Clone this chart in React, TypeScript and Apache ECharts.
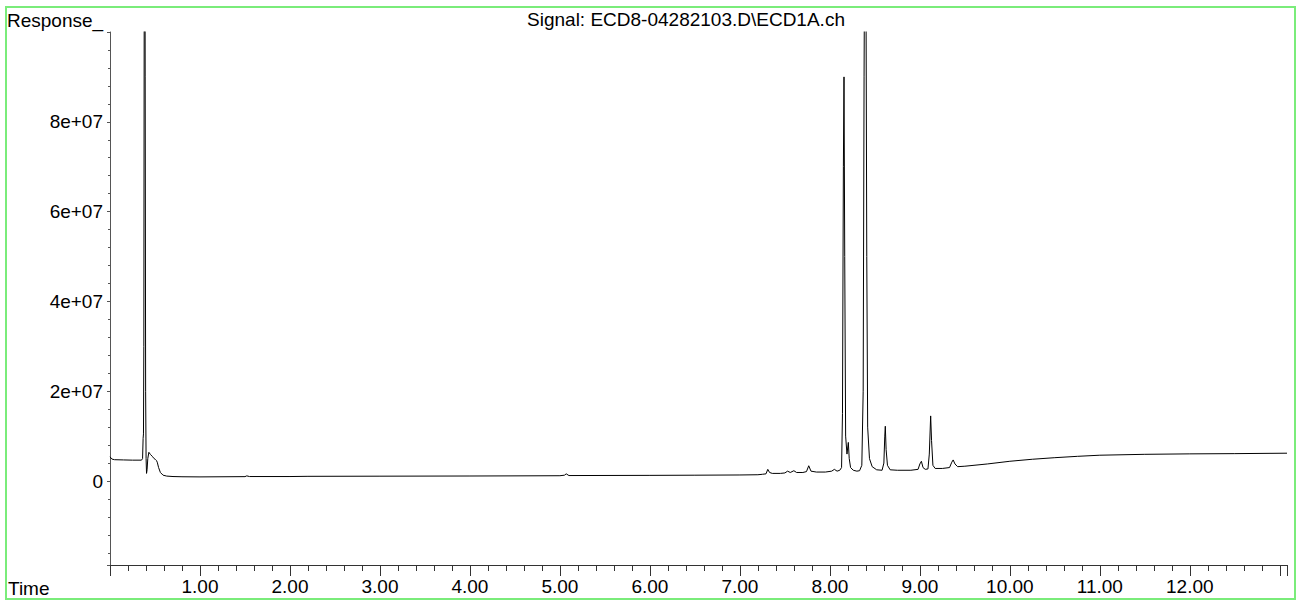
import React, { useEffect, useRef } from "react";
import * as echarts from "echarts";

// ---- Data (retention time in minutes, detector response) ----
const solventTimes = [0.0, 0.02, 0.05, 0.15, 0.25, 0.35, 0.362, 0.368, 0.372, 0.376, 0.381, 0.386, 0.391, 0.396, 0.401, 0.406, 0.412, 0.42, 0.432, 0.45, 0.47, 0.49, 0.505, 0.515, 0.525, 0.54, 0.56, 0.59, 0.63, 0.7, 0.8];
const solventResp = [5.4e6, 4.9e6, 4.75e6, 4.7e6, 4.65e6, 4.65e6, 5.0e6, 9.5e6, 1.05e7, 3.0e7, 1.2e8, 1.6e8, 9.0e7, 2.0e7, 5.0e6, 1.7e6, 2.5e6, 5.0e6, 6.4e6, 5.9e6, 5.5e6, 5.0e6, 4.8e6, 4.6e6, 4.2e6, 3.0e6, 1.9e6, 1.3e6, 1.1e6, 1.0e6, 0.95e6];

const baselineTimes = [1.0, 1.5, 1.52, 1.55, 2.0, 2.2, 3.0, 4.0, 5.0, 5.05, 5.07, 5.1, 6.0, 6.5, 7.0, 7.2];
const baselineResp = [0.92e6, 0.98e6, 1.15e6, 1.0e6, 1.0e6, 1.05e6, 1.08e6, 1.12e6, 1.18e6, 1.3e6, 1.6e6, 1.22e6, 1.26e6, 1.3e6, 1.35e6, 1.4e6];

const minorPeakTimes = [7.25, 7.29, 7.31, 7.33, 7.36, 7.45, 7.5, 7.53, 7.56, 7.6, 7.63, 7.7, 7.74, 7.765, 7.79, 7.85, 7.95, 8.02, 8.05, 8.08, 8.11];
const minorPeakResp = [1.5e6, 1.6e6, 2.6e6, 1.9e6, 1.7e6, 1.7e6, 1.8e6, 2.2e6, 1.9e6, 2.3e6, 1.9e6, 1.9e6, 2.1e6, 3.4e6, 2.2e6, 2.0e6, 2.0e6, 2.2e6, 2.6e6, 2.2e6, 2.4e6];

const mainPeakTimes = [8.13, 8.14, 8.15, 8.157, 8.165, 8.175, 8.19, 8.205, 8.215, 8.23, 8.26, 8.3, 8.33, 8.355, 8.37, 8.38, 8.39, 8.4, 8.41, 8.42, 8.44, 8.47, 8.52, 8.58, 8.6, 8.61, 8.616, 8.625, 8.64, 8.67, 8.75, 8.9, 8.98, 9.0, 9.017, 9.035, 9.06, 9.09, 9.105, 9.12, 9.13, 9.145, 9.17, 9.25, 9.33, 9.355, 9.37, 9.39, 9.42];
const mainPeakResp = [3.0e6, 1.5e7, 7.0e7, 9.0e7, 5.0e7, 1.0e7, 6.0e6, 8.6e6, 5.0e6, 3.0e6, 2.4e6, 2.2e6, 2.3e6, 3.5e6, 2.0e7, 9.0e7, 1.4e8, 1.2e8, 5.0e7, 1.2e7, 5.0e6, 3.2e6, 2.5e6, 2.4e6, 4.0e6, 1.0e7, 1.22e7, 7.0e6, 3.5e6, 2.5e6, 2.4e6, 2.4e6, 2.6e6, 3.8e6, 4.4e6, 3.0e6, 2.6e6, 2.7e6, 6.0e6, 1.45e7, 9.0e6, 3.5e6, 2.8e6, 2.8e6, 3.0e6, 4.2e6, 4.7e6, 3.8e6, 3.2e6];

const driftTimes = [9.5, 9.75, 10.0, 10.25, 10.5, 10.75, 11.0, 11.5, 12.0, 12.5, 13.08];
const driftResp = [3.3e6, 3.8e6, 4.4e6, 4.85e6, 5.2e6, 5.5e6, 5.75e6, 5.95e6, 6.05e6, 6.1e6, 6.2e6];

const xMin = 0;
const xMax = 13.08;
const yMin = -1.87e7;
const yMax = 1.0e8;
const yLabelValues = [0, 2e7, 4e7, 6e7, 8e7];
const xLabelValues = [1, 2, 3, 4, 5, 6, 7, 8, 9, 10, 11, 12];

const titleText = "Signal: ECD8-04282103.D\\ECD1A.ch";
const yName = "Response_";
const xName = "Time";

const FONT = "'Liberation Sans', Arial, Helvetica, sans-serif";

function fmtExp(v: number): string {
  if (v === 0) return "0";
  const e = Math.floor(Math.log10(Math.abs(v)) + 1e-9);
  const m = Math.round((v / Math.pow(10, e)) * 1000) / 1000;
  return `${m}e+${String(e).padStart(2, "0")}`;
}

export default function App() {
  const ref = useRef<HTMLDivElement>(null);
  useEffect(() => {
    if (!ref.current) return;
    const chart = echarts.init(ref.current, null, { renderer: "svg" });
    const times = [...solventTimes, ...baselineTimes, ...minorPeakTimes, ...mainPeakTimes, ...driftTimes];
    const resp = [...solventResp, ...baselineResp, ...minorPeakResp, ...mainPeakResp, ...driftResp];
    const data = times.map((t, i) => [t, resp[i]]);

    chart.setOption({
      animation: false,
      backgroundColor: "#ffffff",
      grid: {
        left: 110,
        right: 9,
        top: 32,
        bottom: 36,
        containLabel: false,
        outerBoundsMode: "none",
      },
      xAxis: {
        type: "value",
        min: xMin,
        max: xMax,
        interval: 1,
        axisLine: { show: true, onZero: false, lineStyle: { color: "#333", width: 1 } },
        axisTick: { show: true, length: 11, lineStyle: { color: "#333" } },
        minorTick: { show: true, splitNumber: 5, length: 6, lineStyle: { color: "#333" } },
        splitLine: { show: false },
        axisLabel: {
          margin: 12,
          color: "#000",
          fontFamily: FONT,
          fontSize: 19,
          showMinLabel: true,
          showMaxLabel: true,
          formatter: (v: number) => (xLabelValues.some((x) => Math.abs(x - v) < 1e-6) ? v.toFixed(2) : ""),
        },
      },
      yAxis: {
        type: "value",
        min: yMin,
        max: yMax,
        splitNumber: 5,
        axisLine: { show: true, onZero: false, lineStyle: { color: "#555", width: 1 } },
        axisTick: { show: true, length: 3, lineStyle: { color: "#555" } },
        minorTick: { show: true, splitNumber: 5, length: 2, lineStyle: { color: "#555" } },
        splitLine: { show: false },
        axisLabel: {
          margin: 7,
          color: "#000",
          fontFamily: FONT,
          fontSize: 19,
          formatter: (v: number) => (yLabelValues.some((y) => Math.abs(y - v) < 1) ? fmtExp(v) : ""),
        },
      },
      series: [
        {
          type: "line",
          data,
          symbol: "none",
          clip: true,
          lineStyle: { color: "#000", width: 1 },
          silent: true,
        },
      ],
      graphic: [
        {
          type: "rect",
          shape: { x: 6, y: 7, width: 1289, height: 592 },
          style: { fill: "none", stroke: "#7aec7a", lineWidth: 2 },
          silent: true,
        },
        {
          type: "text",
          x: 7,
          y: 20,
          style: { text: yName, fill: "#000", fontSize: 19, fontFamily: FONT, align: "left", verticalAlign: "middle", textAlign: "left", textVerticalAlign: "middle" },
        },
        {
          type: "text",
          x: 686,
          y: 19,
          style: { text: titleText, fill: "#000", fontSize: 19, fontFamily: FONT, align: "center", verticalAlign: "middle", textAlign: "center", textVerticalAlign: "middle" },
        },
        {
          type: "text",
          x: 8,
          y: 588,
          style: { text: xName, fill: "#000", fontSize: 19, fontFamily: FONT, align: "left", verticalAlign: "middle", textAlign: "left", textVerticalAlign: "middle" },
        },
      ],
    });
    return () => chart.dispose();
  }, []);
  return (
    <div
      ref={ref}
      style={{ position: "absolute", left: 0, top: 0, width: 1296, height: 601, background: "#fff" }}
    />
  );
}
